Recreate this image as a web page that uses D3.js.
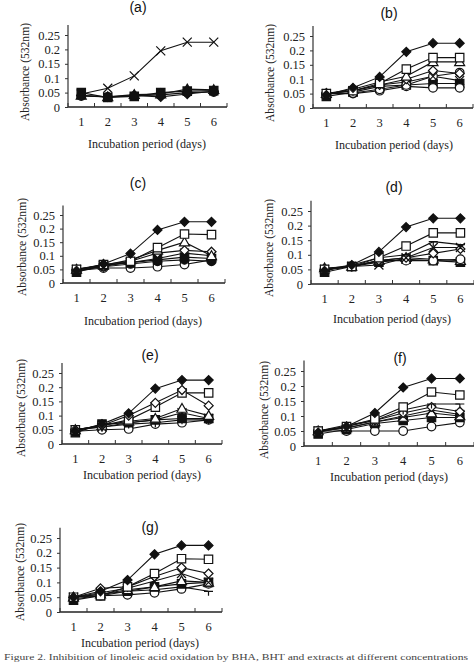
<!DOCTYPE html>
<html><head><meta charset="utf-8">
<script src="https://cdn.jsdelivr.net/npm/d3@7"></script>
<style>html,body{margin:0;padding:0;background:#fff;overflow:hidden}</style>
</head><body>
<svg id="chart" width="474" height="662"></svg>
<script>
// ---------------- DATA ----------------
const days = [1, 2, 3, 4, 5, 6];
const yTicks = [0, 0.05, 0.1, 0.15, 0.2, 0.25];
const yTickLabels = ["0", "0.05", "0.1", "0.15", "0.2", "0.25"];
const panelTitles = ["(a)", "(b)", "(c)", "(d)", "(e)", "(f)", "(g)"];
const xTitle = "Incubation period (days)";
const yTitle = "Absorbance (532nm)";
const caption = "Figure 2. Inhibition of linoleic acid oxidation by BHA, BHT and extracts at different concentrations";

const markersA = ["squareFilled", "diamondFilled", "triangleFilled", "circleFilled", "cross"];
const valuesA = [
  [0.050, 0.033, 0.037, 0.050, 0.055, 0.057],
  [0.040, 0.035, 0.040, 0.035, 0.045, 0.055],
  [0.040, 0.035, 0.043, 0.045, 0.062, 0.060],
  [0.038, 0.035, 0.038, 0.042, 0.050, 0.052],
  [0.045, 0.065, 0.108, 0.195, 0.225, 0.225]
];

const markersB = ["squareFilled", "circleOpen", "circleOpen", "cross", "diamondOpen", "triangleOpen", "squareOpen", "diamondFilled"];
const valuesB = [
  [0.040, 0.055, 0.075, 0.080, 0.085, 0.085],
  [0.050, 0.050, 0.060, 0.075, 0.070, 0.070],
  [0.050, 0.052, 0.065, 0.080, 0.110, 0.123],
  [0.050, 0.060, 0.080, 0.090, 0.110, 0.095],
  [0.050, 0.060, 0.080, 0.100, 0.130, 0.120],
  [0.050, 0.065, 0.090, 0.110, 0.160, 0.160],
  [0.050, 0.060, 0.085, 0.135, 0.175, 0.175],
  [0.045, 0.070, 0.108, 0.195, 0.225, 0.225]
];

const markersC = ["circleOpen", "circleFilled", "squareFilled", "cross", "diamondOpen", "triangleOpen", "squareOpen", "diamondFilled"];
const valuesC = [
  [0.045, 0.055, 0.055, 0.060, 0.068, 0.085],
  [0.045, 0.060, 0.070, 0.080, 0.085, 0.080],
  [0.040, 0.065, 0.075, 0.085, 0.095, 0.090],
  [0.050, 0.065, 0.075, 0.090, 0.110, 0.100],
  [0.050, 0.060, 0.080, 0.110, 0.120, 0.115],
  [0.050, 0.065, 0.085, 0.120, 0.150, 0.100],
  [0.050, 0.068, 0.080, 0.130, 0.180, 0.178],
  [0.045, 0.070, 0.108, 0.195, 0.225, 0.225]
];

const markersD = ["squareFilled", "triangleOpen", "circleOpen", "diamondOpen", "cross", "dash", "squareOpen", "diamondFilled"];
const valuesD = [
  [0.040, 0.060, 0.075, 0.085, 0.080, 0.075],
  [0.055, 0.060, 0.080, 0.090, 0.085, 0.080],
  [0.050, 0.060, 0.080, 0.080, 0.080, 0.085],
  [0.050, 0.060, 0.080, 0.090, 0.105, 0.120],
  [0.050, 0.060, 0.065, 0.090, 0.125, 0.125],
  [0.050, 0.065, 0.090, 0.100, 0.145, 0.135],
  [0.050, 0.060, 0.090, 0.130, 0.175, 0.175],
  [0.045, 0.065, 0.110, 0.195, 0.225, 0.225]
];

const markersE = ["circleOpen", "dash", "squareFilled", "asterisk", "triangleOpen", "squareOpen", "diamondOpen", "diamondFilled"];
const valuesE = [
  [0.045, 0.050, 0.053, 0.070, 0.075, 0.085],
  [0.050, 0.060, 0.070, 0.075, 0.085, 0.085],
  [0.040, 0.070, 0.075, 0.085, 0.090, 0.090],
  [0.050, 0.060, 0.075, 0.085, 0.110, 0.090],
  [0.050, 0.065, 0.080, 0.090, 0.125, 0.100],
  [0.050, 0.065, 0.085, 0.130, 0.180, 0.180],
  [0.050, 0.065, 0.100, 0.145, 0.190, 0.135],
  [0.045, 0.070, 0.108, 0.195, 0.225, 0.225]
];

const markersF = ["circleOpen", "squareFilled", "triangleOpen", "cross", "diamondOpen", "dash", "squareOpen", "diamondFilled"];
const valuesF = [
  [0.050, 0.050, 0.050, 0.050, 0.065, 0.078],
  [0.040, 0.055, 0.075, 0.085, 0.095, 0.095],
  [0.050, 0.060, 0.080, 0.095, 0.110, 0.100],
  [0.050, 0.060, 0.080, 0.100, 0.120, 0.105],
  [0.050, 0.065, 0.085, 0.110, 0.130, 0.115],
  [0.050, 0.070, 0.085, 0.120, 0.140, 0.140],
  [0.050, 0.065, 0.090, 0.130, 0.180, 0.170],
  [0.045, 0.065, 0.110, 0.195, 0.225, 0.225]
];

const markersG = ["dash", "circleOpen", "squareFilled", "triangleOpen", "cross", "diamondOpen", "squareOpen", "diamondFilled"];
const valuesG = [
  [0.050, 0.060, 0.070, 0.075, 0.085, 0.070],
  [0.045, 0.055, 0.058, 0.065, 0.078, 0.095],
  [0.040, 0.055, 0.070, 0.085, 0.095, 0.100],
  [0.050, 0.060, 0.075, 0.085, 0.105, 0.100],
  [0.050, 0.065, 0.080, 0.105, 0.130, 0.100],
  [0.050, 0.080, 0.085, 0.120, 0.150, 0.130],
  [0.050, 0.055, 0.085, 0.130, 0.180, 0.178],
  [0.050, 0.070, 0.108, 0.195, 0.225, 0.225]
];

const panelMarkers = [markersA, markersB, markersC, markersD, markersE, markersF, markersG];
const panelValues = [valuesA, valuesB, valuesC, valuesD, valuesE, valuesF, valuesG];

// ---------------- LAYOUT ----------------
const layout = [
  {ax: 68,  ae: 227, y0: 107, y25: 35,  tx: 138, ty: 12,  lx: 147, ly: 148, yx: 25,  yy: 72},
  {ax: 313, ae: 473, y0: 108, y25: 36,  tx: 389, ty: 18,  lx: 394, ly: 149, yx: 270, yy: 73},
  {ax: 63,  ae: 225, y0: 283, y25: 215, tx: 138, ty: 188, lx: 143, ly: 325, yx: 22,  yy: 247},
  {ax: 311, ae: 474, y0: 284, y25: 211, tx: 394, ty: 192, lx: 392, ly: 323, yx: 269, yy: 248},
  {ax: 62,  ae: 222, y0: 444, y25: 373, tx: 150, ty: 360, lx: 142, ly: 479, yx: 21,  yy: 408},
  {ax: 304, ae: 474, y0: 446, y25: 371, tx: 400, ty: 363, lx: 389, ly: 481, yx: 264, yy: 410},
  {ax: 60,  ae: 222, y0: 612, y25: 538, tx: 150, ty: 532, lx: 140, ly: 647, yx: 20,  yy: 572}
];

const svg = d3.select("#chart");
const SERIF = "'Liberation Serif','DejaVu Serif',serif";
const SANS = "'Liberation Sans',Arial,sans-serif";

function markerPath(type) {
  const p = d3.path();
  switch (type) {
    case "diamondFilled": case "diamondOpen": {
      const r = 4.5; p.moveTo(0, -r); p.lineTo(r, 0); p.lineTo(0, r); p.lineTo(-r, 0); p.closePath(); break; }
    case "squareFilled": case "squareOpen": {
      const r = 4.2; p.rect(-r, -r, 2 * r, 2 * r); break; }
    case "triangleFilled": case "triangleOpen": {
      const r = 5; p.moveTo(0, -r); p.lineTo(r, r * 0.75); p.lineTo(-r, r * 0.75); p.closePath(); break; }
    case "circleFilled": case "circleOpen": {
      const r = 4.3; p.arc(0, 0, r, 0, 2 * Math.PI); break; }
    case "cross": {
      const r = 4.5; p.moveTo(-r, -r); p.lineTo(r, r); p.moveTo(r, -r); p.lineTo(-r, r); break; }
    case "asterisk": {
      const r = 4.5; p.moveTo(-r, -r); p.lineTo(r, r); p.moveTo(r, -r); p.lineTo(-r, r); p.moveTo(0, -r); p.lineTo(0, r); break; }
    case "dash": {
      const r = 4.5; p.moveTo(-r, 0); p.lineTo(r, 0); p.moveTo(0, 0); p.lineTo(0, r); break; }
  }
  return p.toString();
}
function markerFill(type) {
  if (type.endsWith("Filled")) return "#111";
  if (type.endsWith("Open")) return "#fff";
  return "none";
}

layout.forEach((L, i) => {
  const g = svg.append("g");
  const x = d3.scaleBand().domain(days).range([L.ax, L.ae]).padding(0);
  const y = d3.scaleLinear().domain([0, 0.25]).range([L.y0, L.y25]);
  const xc = d => x(d) + x.bandwidth() / 2;

  // y axis
  const yAxis = d3.axisLeft(y).tickValues(yTicks).tickFormat((d, k) => yTickLabels[k]).tickSize(3).tickPadding(5);
  const ya = g.append("g").attr("transform", `translate(${L.ax},0)`).call(yAxis);
  ya.select(".domain").remove();
  ya.selectAll("line").attr("stroke", "#333");
  ya.selectAll("text").attr("font-family", SERIF).attr("font-size", 12.5).attr("fill", "#222");
  g.append("line").attr("x1", L.ax).attr("x2", L.ax).attr("y1", L.y0).attr("y2", y(0.285))
    .attr("stroke", "#333").attr("stroke-width", 1.2);

  // x axis
  const xAxis = d3.axisBottom(x).tickSize(0).tickPadding(10);
  const xa = g.append("g").attr("transform", `translate(0,${L.y0})`).call(xAxis);
  xa.select(".domain").remove();
  xa.selectAll("text").attr("font-family", SERIF).attr("font-size", 12.5).attr("fill", "#222");
  g.append("line").attr("x1", L.ax).attr("x2", L.ae).attr("y1", L.y0).attr("y2", L.y0)
    .attr("stroke", "#222").attr("stroke-width", 1.6);
  const bounds = days.map(d => x(d)).concat([L.ae]);
  g.selectAll(".xt").data(bounds).join("line")
    .attr("x1", d => d).attr("x2", d => d).attr("y1", L.y0 - 4).attr("y2", L.y0)
    .attr("stroke", "#333");

  // titles
  g.append("text").attr("x", L.tx).attr("y", L.ty).attr("text-anchor", "middle")
    .attr("font-family", SANS).attr("font-size", 14).attr("fill", "#111").text(panelTitles[i]);
  g.append("text").attr("x", L.lx).attr("y", L.ly).attr("text-anchor", "middle")
    .attr("font-family", SERIF).attr("font-size", 13).attr("fill", "#222")
    .attr("textLength", 118).attr("lengthAdjust", "spacingAndGlyphs").text(xTitle);
  g.append("text").attr("transform", `translate(${L.yx + 4},${L.yy}) rotate(-90)`).attr("text-anchor", "middle")
    .attr("font-family", SERIF).attr("font-size", 13).attr("fill", "#222")
    .attr("textLength", 98).attr("lengthAdjust", "spacingAndGlyphs").text(yTitle);

  // series
  const line = d3.line().x((v, k) => xc(days[k])).y(v => y(v));
  const vals = panelValues[i], mks = panelMarkers[i];
  vals.forEach((vs, s) => {
    g.append("path").attr("d", line(vs)).attr("fill", "none").attr("stroke", "#111").attr("stroke-width", 1.1);
  });
  vals.forEach((vs, s) => {
    const t = mks[s];
    g.selectAll(null).data(vs).join("path")
      .attr("transform", (v, k) => `translate(${xc(days[k])},${y(v)})`)
      .attr("d", markerPath(t))
      .attr("fill", markerFill(t))
      .attr("stroke", "#111").attr("stroke-width", 1.2);
  });
});

svg.append("text").attr("x", 4).attr("y", 660).attr("font-family", SERIF).attr("font-size", 9)
  .attr("fill", "#444").attr("textLength", 464).attr("lengthAdjust", "spacingAndGlyphs").text(caption);
</script>
</body></html>
